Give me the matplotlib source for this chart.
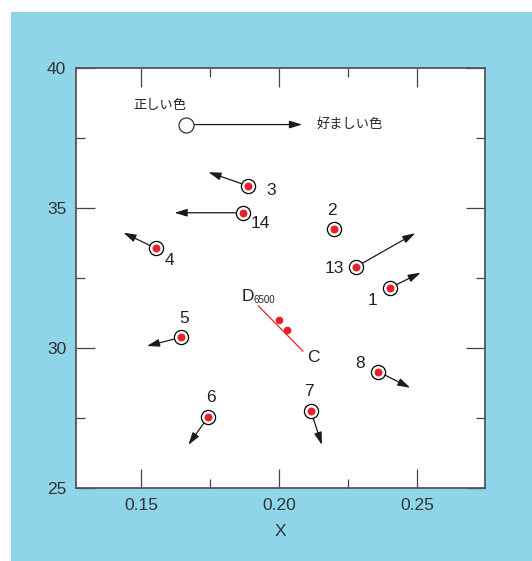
import matplotlib
matplotlib.use("Agg")
import matplotlib.pyplot as plt
from matplotlib.patches import Rectangle
from matplotlib.ticker import MultipleLocator

plt.rcParams['font.family'] = ['Liberation Sans', 'Noto Sans CJK JP', 'DejaVu Sans']

# colour samples: start point (correct colour) -> end point (preferred colour)
names = ['1', '2', '3', '4', '5', '6', '7', '8', '13', '14']
x0 = [0.2399, 0.2198, 0.1886, 0.1552, 0.1643, 0.1743, 0.2114, 0.2359, 0.2278, 0.1867]
y0 = [32.14, 34.24, 35.79, 33.56, 30.38, 27.55, 27.75, 29.15, 32.90, 34.83]
x1 = [0.2512, None, 0.1743, 0.1435, 0.1520, 0.1670, 0.2154, 0.2474, 0.2492, 0.1620]
y1 = [32.69, None, 36.28, 34.12, 30.07, 26.54, 26.54, 28.58, 34.10, 34.83]
# label offsets in pixels (right, up)
lab_dx = [-17, -2, 23, 14, 3, 2, -2, -18, -22, 18]
lab_dy = [-12, 19, -5, -12, 19, 19, 20, 8, -2, -11]

# white points D6500 and C
wp_x = [0.2000, 0.2027]
wp_y = [31.00, 30.64]
wp_line_x = [0.1924, 0.2085]
wp_line_y = [31.50, 29.89]

# legend example
leg_x0, leg_y0 = 0.1662, 37.98
leg_x1, leg_y1 = 0.2082, 37.98

blue = '#8fd5ea'
red = '#e8202a'
dark = '#333333'

fig = plt.figure(figsize=(5.32, 5.61), dpi=100)
fig.patch.set_facecolor('white')
fig.add_artist(Rectangle((11 / 532, 0), 1, (561 - 12) / 561, transform=fig.transFigure,
                         facecolor=blue, edgecolor='none', zorder=-10))

ax = fig.add_axes([76 / 532, 73 / 561, 409 / 532, 420 / 561])
ax.set_facecolor('white')
ax.set_xlim(0.1263, 0.2745)
ax.set_ylim(25, 40)

arrow_kw = dict(arrowstyle='-|>,head_length=7.5,head_width=2.3', mutation_scale=1,
                color='#1a1a1a', lw=0.9, shrinkA=5, shrinkB=0)

for i, n in enumerate(names):
    if x1[i] is not None:
        ax.annotate('', xy=(x1[i], y1[i]), xytext=(x0[i], y0[i]), arrowprops=arrow_kw)
    ax.plot(x0[i], y0[i], 'o', ms=10.2, mfc='white', mec='black', mew=0.9, zorder=3)
    ax.plot(x0[i], y0[i], 'o', ms=5.7, mfc=red, mec='none', zorder=4)
    ax.annotate(n, (x0[i], y0[i]), xytext=(lab_dx[i], lab_dy[i]), textcoords='offset pixels',
                ha='center', va='center', fontsize=12.5, color='#222222')

# white points
ax.plot(wp_line_x, wp_line_y, color=red, lw=0.9, zorder=2)
ax.plot(wp_x, wp_y, 'o', ms=5.5, color=red, mec='none', zorder=3)
ax.text(0.18844, 31.84, 'D', ha='center', va='center', fontsize=12.5, color='#222222')
ax.text(0.1905, 31.73, '6500', ha='left', va='center', fontsize=7, color='#222222')
ax.text(0.2122, 29.66, 'C', ha='center', va='center', fontsize=12.5, color='#222222')

# legend example
ax.annotate('', xy=(leg_x1, leg_y1), xytext=(leg_x0, leg_y0), arrowprops=arrow_kw)
ax.plot(leg_x0, leg_y0, 'o', ms=10.8, mfc='white', mec='#333333', mew=0.9, zorder=3)
ax.text(0.1568, 38.64, '正しい色', ha='center', va='center', fontsize=9.5, color='#222222')
ax.text(0.2255, 37.99, '好ましい色', ha='center', va='center', fontsize=9.5, color='#222222')

ax.xaxis.set_major_locator(MultipleLocator(0.05))
ax.xaxis.set_minor_locator(MultipleLocator(0.025))
ax.yaxis.set_major_locator(MultipleLocator(5))
ax.yaxis.set_minor_locator(MultipleLocator(2.5))
ax.xaxis.set_major_formatter(plt.FuncFormatter(lambda v, p: '%.2f' % v))
ax.tick_params(which='both', direction='in', top=True, right=True, color='#444444',
               labelsize=12.5, labelcolor=dark, pad=7)
ax.tick_params(which='major', length=13.5, width=0.9)
ax.tick_params(which='minor', length=6.2, width=0.9)
for s in ax.spines.values():
    s.set_color('#555555')
    s.set_linewidth(1.3)

ax.set_xlabel('X', fontsize=12.5, color=dark, labelpad=8)

fig.savefig('out.png', dpi=100)
